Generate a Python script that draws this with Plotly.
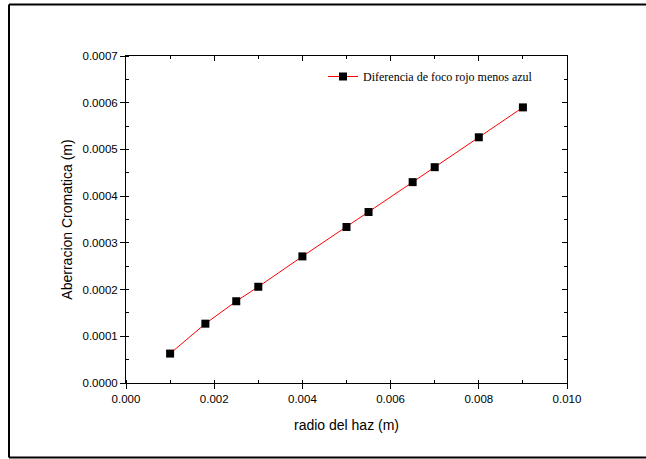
import plotly.graph_objects as go

# Data
radio = [0.001, 0.0018, 0.0025, 0.003, 0.004, 0.005, 0.0055, 0.0065, 0.007, 0.008, 0.009]
aberracion = [0.0000630, 0.000127, 0.000175, 0.000206, 0.000271, 0.000334, 0.000366,
              0.000430, 0.000462, 0.000526, 0.000590]
serie_nombre = "Diferencia de foco rojo menos azul"
x_title = "radio del haz (m)"
y_title = "Aberracion Cromatica (m)"

W, H = 646, 459
L, R, T, B = 126, 79, 56, 76
pw, ph = W - L - R, H - T - B

sans = "Liberation Sans, Arial, sans-serif"
serif = "Liberation Serif, Times New Roman, serif"

fig = go.Figure()
fig.add_trace(go.Scatter(
    x=radio, y=aberracion, mode="lines+markers", name=serie_nombre,
    line=dict(color="#ff0000", width=1),
    marker=dict(symbol="square", size=8, color="black", line=dict(width=0)),
))
# invisible trace to anchor mirrored axes
fig.add_trace(go.Scatter(x=[radio[0]], y=[aberracion[0]], xaxis="x2", yaxis="y2",
                         mode="markers", marker=dict(opacity=0), showlegend=False,
                         hoverinfo="skip"))

common = dict(showgrid=False, zeroline=False, showline=True, linecolor="black",
              linewidth=1, tickcolor="black", tickwidth=1)

fx0 = (9 - L) / pw
fx1 = (W + 20 - L) / pw
fy0 = (H - B - 457.5) / ph
fy1 = (H - B - 4.5) / ph
frame = dict(type="line", xref="paper", yref="paper",
             line=dict(color="black", width=2), layer="below")

fig.update_layout(
    width=W, height=H,
    margin=dict(l=L, r=R, t=T, b=B),
    paper_bgcolor="white", plot_bgcolor="white",
    showlegend=True,
    legend=dict(x=(323 - L) / pw, y=(H - B - 62) / ph, xanchor="left", yanchor="top",
                bgcolor="rgba(0,0,0,0)", font=dict(family=serif, size=12, color="black")),
    xaxis=dict(range=[0, 0.010], dtick=0.002, tickformat=".3f", ticks="outside", ticklen=5,
               minor=dict(dtick=0.001, ticks="inside", ticklen=3, tickcolor="black"),
               tickfont=dict(family=sans, size=11.5, color="black"),
               title=dict(text=x_title, font=dict(family=sans, size=14, color="black"), standoff=16),
               automargin=False, **common),
    yaxis=dict(range=[0, 0.0007], dtick=0.0001, tickformat=".4f", ticks="outside", ticklen=5,
               minor=dict(dtick=0.00005, ticks="inside", ticklen=3, tickcolor="black"),
               tickfont=dict(family=sans, size=11.5, color="black"),
               title=dict(text=y_title, font=dict(family=sans, size=14, color="black"), standoff=6),
               automargin=False, **common),
    xaxis2=dict(range=[0, 0.010], overlaying="x", side="top", anchor="y", dtick=0.002,
                ticks="inside", ticklen=5, showticklabels=False,
                minor=dict(dtick=0.001, ticks="inside", ticklen=3, tickcolor="black"), **common),
    yaxis2=dict(range=[0, 0.0007], overlaying="y", side="right", anchor="x", dtick=0.0001,
                ticks="inside", ticklen=5, showticklabels=False,
                minor=dict(dtick=0.00005, ticks="inside", ticklen=3, tickcolor="black"), **common),
    shapes=[
        dict(frame, x0=fx0, x1=fx0, y0=fy0, y1=fy1),
        dict(frame, x0=fx0, x1=fx1, y0=fy1, y1=fy1),
        dict(frame, x0=fx0, x1=fx1, y0=fy0, y1=fy0),
    ],
)

fig.write_html("out.html",
               config={"displayModeBar": False},
               post_script="document.body.style.margin='0';document.body.style.overflow='hidden';")
